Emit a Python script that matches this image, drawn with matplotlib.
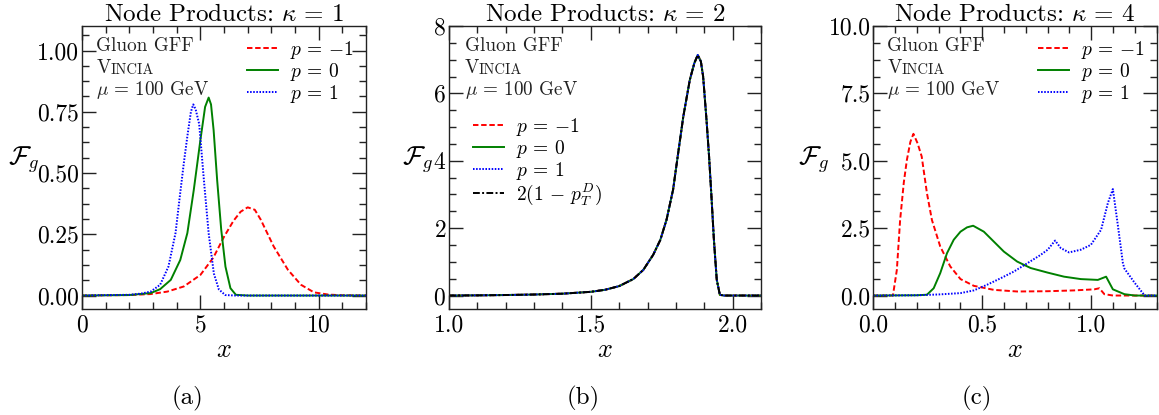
import matplotlib
matplotlib.use('Agg')
import matplotlib.pyplot as plt
from matplotlib.ticker import MultipleLocator, AutoMinorLocator, FormatStrFormatter

plt.rcParams['font.family'] = 'serif'
plt.rcParams['font.serif'] = ['cmr10']
plt.rcParams['mathtext.fontset'] = 'cm'
plt.rcParams['axes.formatter.use_mathtext'] = True
plt.rcParams['axes.unicode_minus'] = False

# panel (a): kappa = 1
a_red_x = [0, 2, 2.9, 3.6, 4.3, 5.0, 5.55, 6.0, 6.4, 6.7, 7.0, 7.3, 7.55, 8.1, 8.7, 9.25, 9.8, 10.4, 11, 12]
a_red_y = [0, 0.002, 0.006, 0.016, 0.037, 0.084, 0.155, 0.24, 0.305, 0.342, 0.36, 0.35, 0.31, 0.2, 0.105, 0.044, 0.013, 0.004, 0.001, 0]
a_green_x = [0, 2, 2.9, 3.3, 3.75, 4.15, 4.45, 4.72, 5.0, 5.2, 5.35, 5.45, 5.56, 5.71, 5.88, 6.06, 6.27, 6.5, 7, 12]
a_green_y = [0, 0.002, 0.01, 0.026, 0.064, 0.145, 0.255, 0.43, 0.634, 0.77, 0.808, 0.78, 0.675, 0.47, 0.27, 0.118, 0.03, 0.003, 0, 0]
a_blue_x = [0, 2, 2.5, 2.9, 3.3, 3.65, 3.95, 4.15, 4.3, 4.45, 4.6, 4.7, 4.8, 4.95, 5.15, 5.35, 5.57, 5.78, 6.05, 6.5, 12]
a_blue_y = [0, 0.003, 0.008, 0.016, 0.044, 0.118, 0.255, 0.42, 0.54, 0.65, 0.75, 0.78, 0.76, 0.70, 0.47, 0.254, 0.09, 0.025, 0.002, 0, 0]

# panel (b): kappa = 2, all curves coincide with 2(1 - pT^D)
b_x = [1.0, 1.1, 1.2, 1.3, 1.4, 1.5, 1.55, 1.6, 1.65, 1.685, 1.72, 1.745, 1.767, 1.79, 1.808,
       1.826, 1.849, 1.865, 1.877, 1.888, 1.896, 1.908, 1.917, 1.926, 1.934, 1.944, 1.955, 1.97, 2.1]
b_y = [0.0, 0.005, 0.015, 0.03, 0.055, 0.11, 0.17, 0.28, 0.49, 0.76, 1.21, 1.65, 2.25, 3.14, 4.23,
       5.31, 6.4, 6.9, 7.14, 6.95, 6.5, 5.2, 4.12, 2.84, 1.65, 0.47, 0.02, 0, 0]

# panel (c): kappa = 4
c_red_x = [0, 0.09, 0.108, 0.123, 0.14, 0.154, 0.17, 0.184, 0.203, 0.222, 0.246, 0.269, 0.307, 0.353,
           0.4, 0.461, 0.553, 0.66, 0.8, 0.92, 1.014, 1.037, 1.06, 1.1, 1.3]
c_red_y = [0, 0, 0.95, 2.8, 4.2, 5.03, 5.7, 6.0, 5.65, 5.16, 3.8, 2.8, 1.82, 1.08,
           0.61, 0.36, 0.21, 0.15, 0.16, 0.19, 0.23, 0.27, 0.05, 0, 0]
c_green_x = [0, 0.2, 0.246, 0.277, 0.307, 0.338, 0.369, 0.4, 0.43, 0.458, 0.507, 0.553, 0.599, 0.66,
             0.722, 0.8, 0.875, 0.952, 1.03, 1.068, 1.099, 1.152, 1.2, 1.3]
c_green_y = [0, 0.01, 0.03, 0.27, 0.83, 1.57, 2.07, 2.37, 2.53, 2.59, 2.37, 2.0, 1.63, 1.26,
             1.02, 0.85, 0.7, 0.61, 0.58, 0.7, 0.23, 0.05, 0, 0]
c_blue_x = [0, 0.2, 0.3, 0.4, 0.461, 0.522, 0.584, 0.645, 0.707, 0.768, 0.8, 0.834, 0.86, 0.898,
            0.952, 0.998, 1.045, 1.076, 1.099, 1.122, 1.145, 1.152, 1.2, 1.245, 1.3]
c_blue_y = [0, 0.01, 0.04, 0.09, 0.19, 0.4, 0.64, 0.89, 1.2, 1.51, 1.7, 2.04, 1.76, 1.6,
            1.7, 1.88, 2.44, 3.43, 3.95, 2.6, 1.2, 1.0, 0.46, 0, 0]

labels = [r'$p\,=\,{-1}$', r'$p\,=\,0$', r'$p\,=\,1$']
kappas = [1, 2, 4]
lw = 1.4
dashed = (0, (2.8, 1.4))
dotted = (0, (0.8, 0.8))
dashdot = (0, (3.5, 1.2, 1, 1.2))

fig = plt.figure(figsize=(11.59, 4.15), dpi=100)
ax_a = fig.add_axes([0.0708, 0.2554, 0.2450, 0.6819])
ax_b = fig.add_axes([0.3874, 0.2554, 0.2692, 0.6819])
ax_c = fig.add_axes([0.7535, 0.2554, 0.2445, 0.6819])

ax_a.plot(a_red_x, a_red_y, color='r', ls=dashed, lw=lw, label=labels[0])
ax_a.plot(a_green_x, a_green_y, color='g', ls='-', lw=lw, label=labels[1])
ax_a.plot(a_blue_x, a_blue_y, color='b', ls=dotted, lw=lw, label=labels[2])

ax_b.plot(b_x, b_y, color='r', ls=dashed, lw=lw, label=labels[0])
ax_b.plot(b_x, b_y, color='g', ls='-', lw=lw, label=labels[1])
ax_b.plot(b_x, b_y, color='b', ls=dotted, lw=lw, label=labels[2])
ax_b.plot(b_x, b_y, color='k', ls=dashdot, lw=lw, label=r'$2(1\,-\,p_T^D)$')

ax_c.plot(c_red_x, c_red_y, color='r', ls=dashed, lw=lw, label=labels[0])
ax_c.plot(c_green_x, c_green_y, color='g', ls='-', lw=lw, label=labels[1])
ax_c.plot(c_blue_x, c_blue_y, color='b', ls=dotted, lw=lw, label=labels[2])

ax_a.set_xlim(0, 12)
ax_a.set_ylim(-0.055, 1.1)
ax_a.xaxis.set_major_locator(MultipleLocator(5))
ax_a.xaxis.set_minor_locator(MultipleLocator(1))
ax_a.yaxis.set_major_locator(MultipleLocator(0.25))
ax_a.yaxis.set_major_formatter(FormatStrFormatter('%.2f'))

ax_b.set_xlim(1.0, 2.1)
ax_b.set_ylim(-0.4, 8)
ax_b.xaxis.set_major_locator(MultipleLocator(0.5))
ax_b.xaxis.set_minor_locator(MultipleLocator(0.1))
ax_b.yaxis.set_major_locator(MultipleLocator(2))
ax_b.xaxis.set_major_formatter(FormatStrFormatter('%.1f'))

ax_c.set_xlim(0, 1.3)
ax_c.set_ylim(-0.5, 10)
ax_c.xaxis.set_major_locator(MultipleLocator(0.5))
ax_c.xaxis.set_minor_locator(MultipleLocator(0.1))
ax_c.yaxis.set_major_locator(MultipleLocator(2.5))
ax_c.xaxis.set_major_formatter(FormatStrFormatter('%.1f'))
ax_c.yaxis.set_major_formatter(FormatStrFormatter('%.1f'))

ylab_x = [-0.205, -0.10, -0.21]
for ax, k, lx in zip([ax_a, ax_b, ax_c], kappas, ylab_x):
    ax.yaxis.set_minor_locator(AutoMinorLocator(4))
    ax.tick_params(which='both', direction='in', top=True, right=True, labelsize=17, color='#222222')
    ax.tick_params(which='major', length=10, width=1)
    ax.tick_params(which='minor', length=5, width=1)
    ax.tick_params(axis='x', which='major', pad=4)
    ax.tick_params(axis='y', which='major', pad=2)
    for sp in ax.spines.values():
        sp.set_linewidth(1.0)
        sp.set_color('#222222')
    ax.set_title(r'Node Products: $\kappa\,=\,%d$' % k, fontsize=18, pad=3)
    ax.set_xlabel('$x$', fontsize=19, labelpad=1)
    ax.set_ylabel(r'$\mathcal{F}_g$', fontsize=19, rotation=0, va='center', ha='center')
    ax.yaxis.set_label_coords(lx, 0.53)

    # info text in the upper left
    ax.text(0.05, 0.93, 'Gluon GFF', transform=ax.transAxes, fontsize=13.8, va='center', color='#222222')
    tv = ax.text(0.05, 0.85, 'V', transform=ax.transAxes, fontsize=13.8, va='center', color='#222222')
    ax.annotate('INCIA', xy=(1, 0.2), xycoords=tv, fontsize=10.5, va='baseline', ha='left', color='#222222')
    ax.text(0.05, 0.775, r'$\mu\,=\,100$ GeV', transform=ax.transAxes, fontsize=13.8, va='center', color='#222222')

leg_kw = dict(frameon=False, fontsize=14, handlelength=1.6, handletextpad=0.6, labelspacing=0.0)
ax_a.legend(loc='upper right', borderaxespad=0.25, **leg_kw)
ax_c.legend(loc='upper right', borderaxespad=0.25, **leg_kw)
ax_b.legend(loc='upper left', bbox_to_anchor=(0.02, 0.745), **leg_kw)

fig.text(187 / 1159, 0.04, '(a)', fontsize=18, ha='center', va='center')
fig.text(583 / 1159, 0.04, '(b)', fontsize=18, ha='center', va='center')
fig.text(977 / 1159, 0.04, '(c)', fontsize=18, ha='center', va='center')

fig.savefig('out.png', dpi=100)
